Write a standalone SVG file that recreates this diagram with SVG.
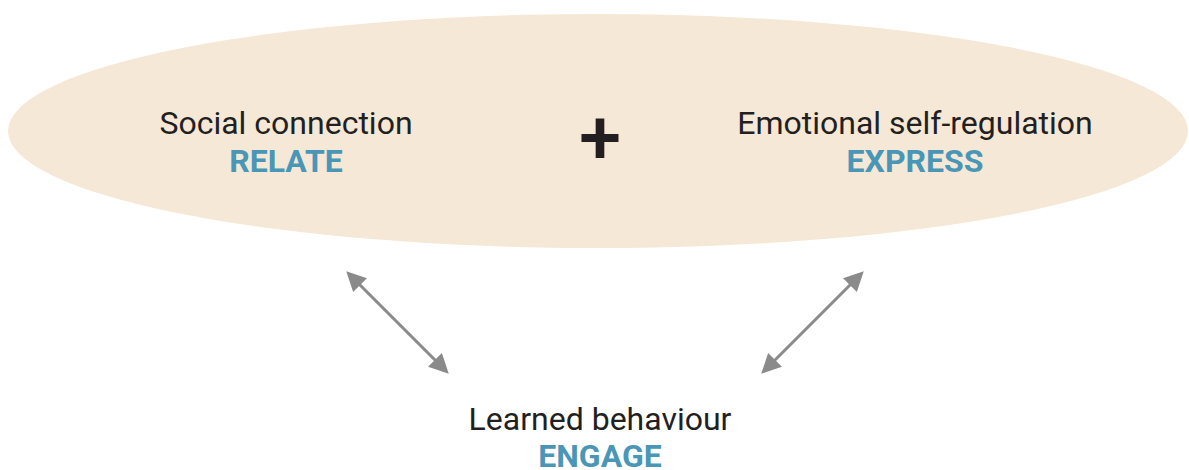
<svg xmlns="http://www.w3.org/2000/svg" width="1189" height="470" viewBox="0 0 1189 470">
  <style>
    .title { font-family: Roboto, "Liberation Sans", sans-serif; font-size: 32px; fill: #231F20; text-anchor: middle; }
    .tag { font-family: Roboto, "Liberation Sans", sans-serif; font-size: 32px; font-weight: bold; fill: #4A96B6; text-anchor: middle; }
    .link { stroke: #8A8A8A; stroke-width: 3; fill: none; marker-start: url(#head); marker-end: url(#head); }
  </style>
  <defs>
    <marker id="head" viewBox="0 0 10 10" refX="8" refY="5" markerWidth="6.5" markerHeight="6.5" orient="auto-start-reverse" markerUnits="strokeWidth">
      <path d="M0,0 L10,5 L0,10 z" fill="#8A8A8A"/>
    </marker>
  </defs>
  <rect width="1189" height="470" fill="#ffffff"/>
  <g id="context">
    <ellipse cx="598" cy="131" rx="590" ry="117" fill="#F5E8D6"/>
  </g>
  <g id="relate">
    <text class="title" x="286" y="134">Social connection</text>
    <text class="tag" x="286" y="172">RELATE</text>
  </g>
  <g id="plus">
    <text x="600" y="164" font-family="Roboto, 'Liberation Sans', sans-serif" font-size="76" font-weight="500" fill="#231F20" text-anchor="middle">+</text>
  </g>
  <g id="express">
    <text class="title" x="915" y="134">Emotional self-regulation</text>
    <text class="tag" x="915" y="172">EXPRESS</text>
  </g>
  <g id="engage">
    <text class="title" x="600" y="430">Learned behaviour</text>
    <text class="tag" x="600" y="467">ENGAGE</text>
  </g>
  <g id="connectors">
    <line class="link" x1="349" y1="274" x2="446" y2="371"/>
    <line class="link" x1="861" y1="274" x2="764" y2="371"/>
  </g>
</svg>
